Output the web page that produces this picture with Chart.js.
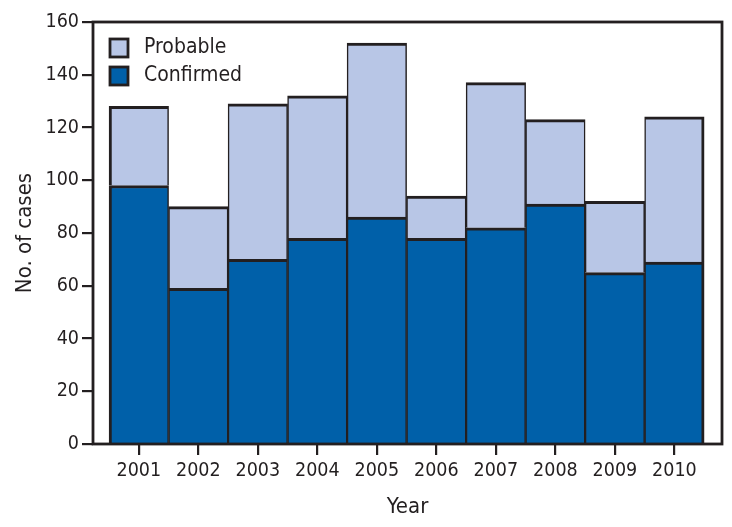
<!DOCTYPE html>
<html>
<head>
<meta charset="utf-8">
<script src="https://cdn.jsdelivr.net/npm/chart.js@4.4.1/dist/chart.umd.min.js"></script>
<style>
  html, body { margin: 0; padding: 0; background: #ffffff; }
  #wrap { width: 732px; height: 527px; position: relative; }
</style>
</head>
<body>
<div id="wrap"><canvas id="c" width="732" height="527"></canvas></div>
<script>
const years = [2001, 2002, 2003, 2004, 2005, 2006, 2007, 2008, 2009, 2010];
const confirmed = [98, 59, 70, 78, 86, 78, 82, 91, 65, 69];
const probable = [30, 31, 59, 54, 66, 16, 55, 32, 27, 55];
const yTickValues = [0, 20, 40, 60, 80, 100, 120, 140, 160];

const INK = '#231F20';
const FONT = "'Liberation Sans Narrow', 'DejaVu Sans Condensed', 'Roboto', sans-serif";
const LW = 3;

function edges(ctx, top, bottom) {
  const last = years.length - 1;
  return {
    top: top,
    bottom: bottom,
    left: ctx.dataIndex === 0 ? LW : LW / 2,
    right: ctx.dataIndex === last ? LW : LW / 2
  };
}

const framePlugin = {
  id: 'frame',
  afterDatasetsDraw(chart) {
    const a = chart.chartArea;
    const ctx = chart.ctx;
    ctx.save();
    ctx.strokeStyle = INK;
    ctx.lineWidth = 2.8;
    ctx.strokeRect(a.left, a.top, a.right - a.left, a.bottom - a.top);
    ctx.restore();
  }
};

const legendPlugin = {
  id: 'insideLegend',
  afterDraw(chart) {
    const ctx = chart.ctx;
    const a = chart.chartArea;
    const order = [1, 0];
    ctx.save();
    order.forEach((di, k) => {
      const ds = chart.data.datasets[di];
      const bx = a.left + 17, by = a.top + 17 + k * 28, s = 18;
      ctx.fillStyle = ds.backgroundColor;
      ctx.fillRect(bx, by, s, s);
      ctx.strokeStyle = INK;
      ctx.lineWidth = 2.8;
      ctx.strokeRect(bx, by, s, s);
      ctx.fillStyle = INK;
      ctx.font = '21px ' + FONT;
      ctx.textBaseline = 'middle';
      ctx.textAlign = 'left';
      ctx.fillText(ds.label, bx + 34, by + s / 2);
    });
    ctx.restore();
  }
};

new Chart(document.getElementById('c'), {
  type: 'bar',
  data: {
    datasets: [
      {
        label: 'Confirmed',
        data: years.map((y, i) => ({ x: y, y: confirmed[i] })),
        backgroundColor: '#0060A9',
        borderColor: INK,
        borderWidth: ctx => edges(ctx, LW, 0),
        borderSkipped: false
      },
      {
        label: 'Probable',
        data: years.map((y, i) => ({ x: y, y: probable[i] })),
        backgroundColor: '#B8C6E6',
        borderColor: INK,
        borderWidth: ctx => edges(ctx, LW, 0),
        borderSkipped: false
      }
    ]
  },
  options: {
    responsive: false,
    animation: false,
    categoryPercentage: 1,
    barPercentage: 1,
    layout: { padding: { left: 0, right: 10, top: 22, bottom: 0 } },
    plugins: { legend: { display: false }, tooltip: { enabled: false } },
    scales: {
      x: {
        type: 'linear',
        stacked: true,
        offset: false,
        min: 2000.23,
        max: 2010.8,
        afterBuildTicks: s => { s.ticks = years.map(v => ({ value: v })); },
        afterFit: s => { s.height = 83; },
        border: { display: false },
        grid: { display: true, drawOnChartArea: false, drawTicks: true, tickLength: 11, color: INK, lineWidth: 2.2, offset: false },
        ticks: { color: INK, font: { family: FONT, size: 19.5 }, padding: 4, autoSkip: false, maxRotation: 0, callback: v => String(v) },
        title: { display: true, text: 'Year', color: INK, font: { family: FONT, size: 22 }, padding: { top: 0, bottom: 7 } }
      },
      y: {
        stacked: true,
        min: 0,
        max: 160,
        afterBuildTicks: s => { s.ticks = yTickValues.map(v => ({ value: v })); },
        afterFit: s => { s.width = 93; },
        border: { display: false },
        grid: { display: true, drawOnChartArea: false, drawTicks: true, tickLength: 11, color: INK, lineWidth: 2.2 },
        ticks: { color: INK, font: { family: FONT, size: 19.5 }, padding: 3, callback: v => String(v) },
        title: { display: true, text: 'No. of cases', color: INK, font: { family: FONT, size: 22 }, padding: { top: 12, bottom: 0 } }
      }
    }
  },
  plugins: [framePlugin, legendPlugin]
});
</script>
</body>
</html>
